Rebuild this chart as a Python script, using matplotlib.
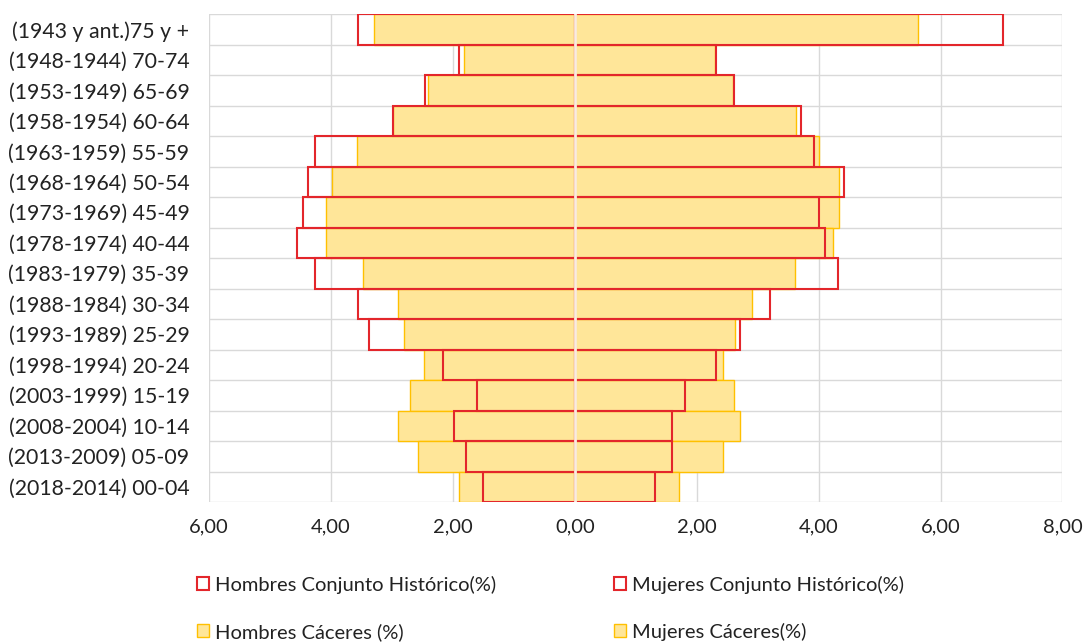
import numpy as np
import matplotlib
matplotlib.use("Agg")
import matplotlib.pyplot as plt
from matplotlib.ticker import FuncFormatter

plt.rcParams['font.family'] = ['Lato', 'DejaVu Sans']

# Age groups, top to bottom
grupos = ["(1943 y ant.)75 y +", "(1948-1944) 70-74", "(1953-1949) 65-69",
          "(1958-1954) 60-64", "(1963-1959) 55-59", "(1968-1964) 50-54",
          "(1973-1969) 45-49", "(1978-1974) 40-44", "(1983-1979) 35-39",
          "(1988-1984) 30-34", "(1993-1989) 25-29", "(1998-1994) 20-24",
          "(2003-1999) 15-19", "(2008-2004) 10-14", "(2013-2009) 05-09",
          "(2018-2014) 00-04"]

# Percentages
hombres_hist = [3.55, 1.90, 2.45, 2.98, 4.27, 4.37, 4.46, 4.56, 4.27, 3.56, 3.37, 2.17, 1.60, 1.98, 1.79, 1.50]
hombres_cac = [3.30, 1.81, 2.40, 2.98, 3.57, 3.98, 4.08, 4.08, 3.47, 2.90, 2.80, 2.47, 2.70, 2.90, 2.57, 1.90]
mujeres_hist = [7.02, 2.32, 2.61, 3.71, 3.92, 4.42, 4.00, 4.10, 4.32, 3.21, 2.71, 2.32, 1.81, 1.60, 1.60, 1.32]
mujeres_cac = [5.63, 2.30, 2.60, 3.63, 4.00, 4.33, 4.33, 4.23, 3.62, 2.90, 2.63, 2.43, 2.62, 2.71, 2.43, 1.71]

etiquetas = ["Hombres Conjunto Histórico(%)", "Mujeres Conjunto Histórico(%)",
             "Hombres Cáceres (%)", "Mujeres Cáceres(%)"]

amarillo = "#FFE699"
oro = "#FFC000"
rojo = "#E3262B"

y = np.arange(len(grupos))

fig = plt.figure(figsize=(10.86, 6.44), dpi=100)
ax = fig.add_axes([0.1925, 0.2205, 0.7858, 0.7575])

# Cáceres bars (filled)
h_cac = ax.barh(y, -np.array(hombres_cac), height=1.0, color=amarillo,
                edgecolor=oro, linewidth=1.0, zorder=2)
m_cac = ax.barh(y, mujeres_cac, height=1.0, color=amarillo,
                edgecolor=oro, linewidth=1.0, zorder=2)

# Historical bars (outline only, on top)
h_hist = ax.barh(y, -np.array(hombres_hist), height=1.0, fill=False,
                 edgecolor=rojo, linewidth=1.5, zorder=3)
m_hist = ax.barh(y, mujeres_hist, height=1.0, fill=False,
                 edgecolor=rojo, linewidth=1.5, zorder=3)

ax.axvline(0, color="#F9ECDF", linewidth=2, zorder=4)

ax.set_xlim(-6, 8)
ax.set_ylim(len(grupos) - 0.5, -0.5)
ax.set_xticks(np.arange(-6, 9, 2))
ax.xaxis.set_major_formatter(FuncFormatter(lambda v, p: f"{abs(v):.2f}".replace(".", ",")))
ax.set_yticks(y)
ax.set_yticklabels(grupos)
ax.set_yticks(np.arange(len(grupos) + 1) - 0.5, minor=True)

ax.grid(axis="x", which="major", color="#D9D9D9", linewidth=1, zorder=0)
ax.grid(axis="y", which="minor", color="#D9D9D9", linewidth=1, zorder=0)
ax.set_axisbelow(True)
ax.tick_params(axis="both", which="both", length=0)
ax.tick_params(axis="x", pad=12, labelsize=14.5, colors="#222222")
ax.tick_params(axis="y", pad=14, labelsize=15.3, colors="#222222")
for s in ax.spines.values():
    s.set_visible(False)

leg_kw = dict(frameon=False, fontsize=14.5, handlelength=0.62, handleheight=0.62,
              handletextpad=0.3, labelspacing=1.45, borderaxespad=0, borderpad=0)
leg1 = fig.legend([h_hist, h_cac], [etiquetas[0], etiquetas[2]],
                  loc="upper left", bbox_to_anchor=(0.181, 0.106), **leg_kw)
leg2 = fig.legend([m_hist, m_cac], [etiquetas[1], etiquetas[3]],
                  loc="upper left", bbox_to_anchor=(0.565, 0.106), **leg_kw)
for t in leg1.get_texts() + leg2.get_texts():
    t.set_color("#222222")

fig.savefig("out.png", dpi=100)
